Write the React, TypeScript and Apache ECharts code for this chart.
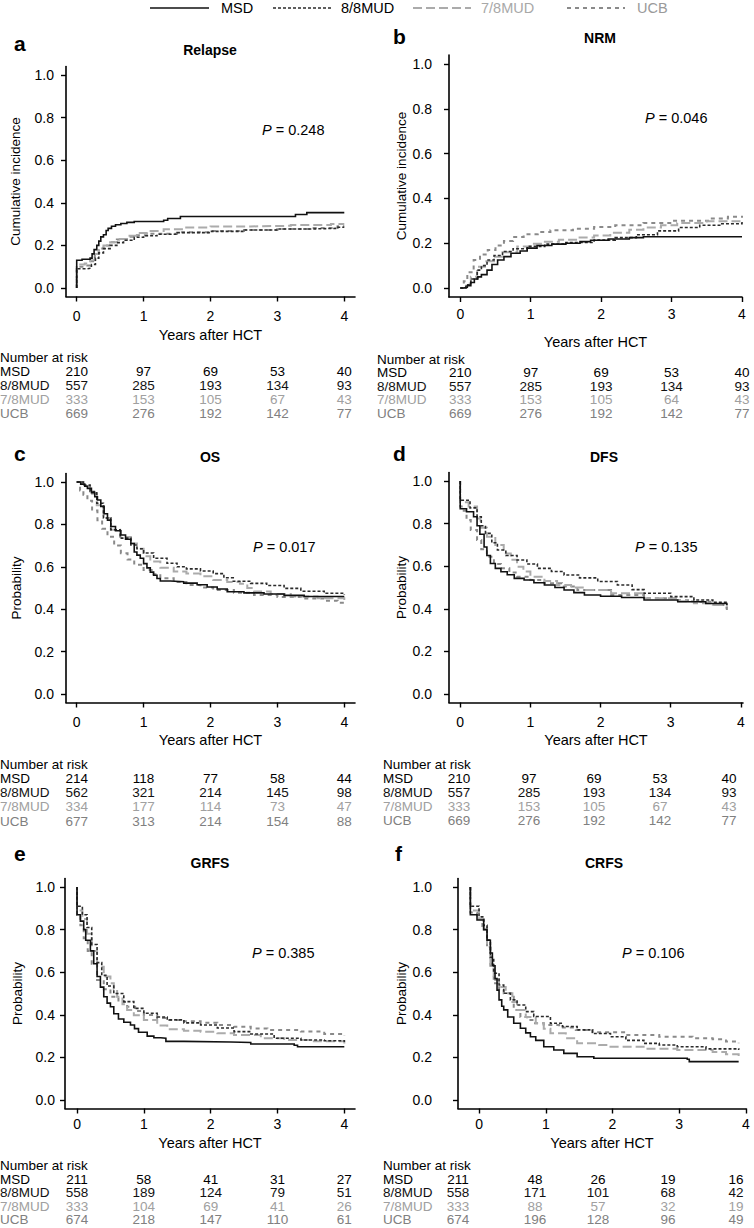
import React, { useEffect, useRef } from "react";
import * as echarts from "echarts";

const FONT = "'Liberation Sans', Arial, Helvetica, sans-serif";

const GROUPS = ["MSD", "8/8MUD", "7/8MUD", "UCB"];
const X_TICKS = [0, 1, 2, 3, 4];
const Y_TICKS = [0, 0.2, 0.4, 0.6, 0.8, 1.0];
const X_NAME = "Years after HCT";

// ---------- Curves (x = years after HCT, y = estimate) ----------
// a. Relapse
const relapseMSD = [[0,0],[0,0.13],[0.08,0.135],[0.2,0.14],[0.23,0.16],[0.26,0.18],[0.3,0.2],[0.33,0.22],[0.36,0.24],[0.4,0.25],[0.44,0.27],[0.47,0.28],[0.52,0.29],[0.58,0.297],[0.66,0.303],[0.75,0.308],[0.86,0.312],[1.3,0.318],[1.36,0.326],[1.55,0.336],[3.27,0.345],[3.44,0.354],[4.0,0.354]];
const relapseMUD88 = [[0,0],[0,0.09],[0.15,0.093],[0.22,0.11],[0.28,0.14],[0.33,0.165],[0.4,0.185],[0.5,0.2],[0.6,0.213],[0.7,0.224],[0.86,0.238],[1.0,0.245],[1.2,0.252],[1.5,0.26],[2.0,0.266],[2.5,0.272],[3.0,0.277],[3.5,0.28],[3.9,0.285],[4.0,0.285]];
const relapseMUD78 = [[0,0],[0,0.11],[0.12,0.115],[0.2,0.13],[0.27,0.16],[0.33,0.185],[0.4,0.2],[0.5,0.215],[0.6,0.23],[0.75,0.245],[0.9,0.258],[1.05,0.268],[1.3,0.276],[1.6,0.284],[2.0,0.289],[2.6,0.292],[3.2,0.296],[3.8,0.3],[4.0,0.3]];
const relapseUCB = [[0,0],[0,0.1],[0.12,0.105],[0.2,0.125],[0.27,0.16],[0.33,0.185],[0.4,0.2],[0.5,0.215],[0.6,0.228],[0.75,0.24],[0.9,0.248],[1.1,0.255],[1.5,0.262],[2.0,0.267],[2.5,0.272],[3.0,0.277],[3.5,0.282],[3.9,0.29],[4.0,0.29]];

// b. NRM
const nrmMSD = [[0,0],[0.05,0.003],[0.1,0.01],[0.15,0.025],[0.2,0.04],[0.25,0.05],[0.3,0.06],[0.38,0.08],[0.45,0.105],[0.53,0.125],[0.62,0.14],[0.72,0.155],[0.85,0.165],[0.95,0.178],[1.09,0.19],[1.3,0.196],[1.5,0.2],[1.7,0.207],[1.85,0.213],[2.1,0.219],[2.4,0.225],[2.6,0.229],[4.0,0.229]];
const nrmMUD88 = [[0,0],[0.08,0.015],[0.15,0.04],[0.24,0.08],[0.3,0.1],[0.38,0.125],[0.48,0.145],[0.6,0.163],[0.75,0.175],[0.95,0.186],[1.2,0.196],[1.5,0.203],[1.9,0.214],[2.2,0.225],[2.5,0.238],[2.8,0.255],[3.1,0.27],[3.4,0.28],[3.7,0.287],[4.0,0.295]];
const nrmMUD78 = [[0,0],[0.08,0.02],[0.15,0.05],[0.24,0.095],[0.35,0.12],[0.48,0.14],[0.6,0.16],[0.81,0.185],[1.0,0.198],[1.18,0.207],[1.4,0.215],[1.66,0.226],[1.9,0.235],[2.13,0.247],[2.4,0.26],[2.6,0.27],[2.85,0.28],[3.08,0.29],[3.5,0.298],[4.0,0.307]];
const nrmUCB = [[0,0],[0.05,0.03],[0.1,0.07],[0.19,0.125],[0.28,0.15],[0.39,0.17],[0.5,0.19],[0.62,0.21],[0.75,0.228],[0.9,0.24],[1.1,0.25],[1.28,0.258],[1.6,0.265],[1.9,0.272],[2.2,0.28],[2.6,0.29],[3.0,0.3],[3.55,0.31],[3.8,0.318],[4.0,0.323]];

// c. OS
const osMSD = [[0,1],[0.06,0.99],[0.12,0.98],[0.16,0.97],[0.22,0.95],[0.27,0.93],[0.31,0.915],[0.36,0.885],[0.41,0.85],[0.46,0.82],[0.51,0.79],[0.58,0.77],[0.66,0.75],[0.73,0.73],[0.81,0.71],[0.86,0.67],[0.9,0.655],[0.95,0.64],[1.0,0.615],[1.05,0.595],[1.1,0.575],[1.15,0.56],[1.2,0.545],[1.25,0.533],[1.4,0.53],[1.6,0.523],[1.8,0.515],[1.95,0.505],[2.1,0.495],[2.25,0.482],[2.5,0.477],[2.8,0.472],[3.1,0.465],[3.4,0.46],[4.0,0.458]];
const osMUD88 = [[0,1],[0.1,0.985],[0.2,0.955],[0.3,0.9],[0.4,0.83],[0.51,0.775],[0.65,0.735],[0.81,0.703],[0.9,0.685],[1.0,0.665],[1.15,0.64],[1.35,0.617],[1.5,0.6],[1.64,0.59],[1.85,0.58],[2.04,0.568],[2.2,0.548],[2.34,0.532],[2.6,0.522],[2.84,0.512],[3.1,0.498],[3.35,0.485],[3.7,0.475],[4.0,0.467]];
const osMUD78 = [[0,1],[0.1,0.98],[0.2,0.945],[0.3,0.89],[0.4,0.83],[0.51,0.775],[0.65,0.74],[0.81,0.71],[0.9,0.685],[1.0,0.65],[1.1,0.625],[1.25,0.595],[1.45,0.578],[1.64,0.568],[1.85,0.555],[2.04,0.538],[2.25,0.528],[2.44,0.52],[2.55,0.5],[2.65,0.483],[2.9,0.472],[3.2,0.46],[3.6,0.452],[4.0,0.443]];
const osUCB = [[0,1],[0.05,0.96],[0.1,0.94],[0.16,0.912],[0.23,0.865],[0.31,0.82],[0.38,0.78],[0.46,0.742],[0.56,0.7],[0.66,0.664],[0.76,0.635],[0.86,0.61],[1.0,0.585],[1.12,0.565],[1.25,0.546],[1.45,0.528],[1.64,0.514],[1.85,0.502],[2.04,0.491],[2.35,0.478],[2.65,0.467],[3.0,0.458],[3.35,0.451],[3.7,0.44],[3.9,0.43],[4.0,0.425]];

// d. DFS
const dfsMSD = [[0,1],[0,0.87],[0.09,0.856],[0.19,0.832],[0.24,0.79],[0.28,0.75],[0.34,0.69],[0.38,0.65],[0.43,0.613],[0.5,0.59],[0.58,0.574],[0.67,0.56],[0.77,0.543],[0.91,0.535],[1.05,0.522],[1.2,0.512],[1.35,0.5],[1.48,0.488],[1.62,0.476],[1.77,0.465],[2.0,0.459],[2.3,0.453],[2.62,0.441],[3.1,0.433],[3.5,0.425],[3.8,0.418]];
const dfsMUD88 = [[0,1],[0,0.91],[0.14,0.874],[0.24,0.832],[0.3,0.79],[0.36,0.754],[0.45,0.71],[0.53,0.676],[0.65,0.65],[0.81,0.629],[0.95,0.61],[1.1,0.59],[1.3,0.575],[1.48,0.559],[1.7,0.545],[1.96,0.528],[2.24,0.512],[2.45,0.49],[2.62,0.473],[3.0,0.457],[3.33,0.441],[3.6,0.43],[3.8,0.422]];
const dfsMUD78 = [[0,1],[0,0.9],[0.12,0.88],[0.24,0.824],[0.29,0.78],[0.38,0.738],[0.5,0.7],[0.62,0.66],[0.72,0.63],[0.81,0.598],[0.9,0.575],[1.0,0.551],[1.2,0.53],[1.38,0.512],[1.58,0.5],[1.77,0.488],[2.15,0.473],[2.62,0.449],[3.1,0.435],[3.33,0.426],[3.6,0.418],[3.8,0.41]];
const dfsUCB = [[0,1],[0,0.88],[0.05,0.86],[0.09,0.817],[0.15,0.77],[0.24,0.723],[0.3,0.68],[0.38,0.644],[0.48,0.61],[0.58,0.59],[0.7,0.57],[0.81,0.551],[1.0,0.535],[1.2,0.52],[1.45,0.505],[1.67,0.488],[2.15,0.465],[2.62,0.449],[3.1,0.44],[3.33,0.433],[3.6,0.42],[3.75,0.405],[3.8,0.394]];

// e. GRFS
const grfsMSD = [[0,1],[0,0.87],[0.05,0.84],[0.1,0.8],[0.13,0.75],[0.2,0.7],[0.25,0.64],[0.3,0.58],[0.35,0.53],[0.4,0.485],[0.45,0.455],[0.5,0.438],[0.55,0.405],[0.62,0.38],[0.7,0.365],[0.8,0.352],[0.86,0.335],[0.92,0.318],[1.05,0.3],[1.15,0.292],[1.25,0.29],[1.33,0.275],[1.6,0.272],[2.3,0.27],[2.6,0.263],[3.25,0.257],[3.3,0.25],[4.0,0.25]];
const grfsMUD88 = [[0,1],[0,0.91],[0.08,0.87],[0.15,0.81],[0.22,0.73],[0.3,0.645],[0.37,0.585],[0.45,0.535],[0.55,0.5],[0.7,0.462],[0.85,0.43],[1.0,0.407],[1.2,0.39],[1.35,0.376],[1.6,0.362],[1.85,0.352],[2.1,0.338],[2.35,0.321],[2.6,0.31],[2.95,0.29],[3.35,0.282],[3.7,0.278],[4.0,0.272]];
const grfsMUD78 = [[0,1],[0,0.89],[0.08,0.85],[0.15,0.78],[0.22,0.7],[0.3,0.626],[0.4,0.58],[0.5,0.548],[0.55,0.52],[0.6,0.485],[0.68,0.45],[0.75,0.423],[0.85,0.398],[1.0,0.376],[1.2,0.35],[1.35,0.332],[1.6,0.325],[1.85,0.32],[2.1,0.313],[2.35,0.305],[2.75,0.29],[3.1,0.282],[3.5,0.276],[4.0,0.265]];
const grfsUCB = [[0,1],[0,0.87],[0.05,0.82],[0.1,0.76],[0.16,0.7],[0.22,0.64],[0.3,0.563],[0.4,0.52],[0.5,0.485],[0.62,0.46],[0.75,0.438],[0.87,0.418],[1.0,0.399],[1.2,0.385],[1.35,0.376],[1.6,0.37],[1.85,0.363],[2.1,0.352],[2.35,0.344],[2.6,0.336],[2.85,0.329],[3.35,0.321],[3.7,0.31],[4.0,0.3]];

// f. CRFS
const crfsMSD = [[-0.13,1],[-0.13,0.87],[-0.03,0.845],[0.07,0.8],[0.12,0.75],[0.17,0.69],[0.2,0.63],[0.24,0.57],[0.27,0.516],[0.3,0.47],[0.34,0.44],[0.37,0.423],[0.43,0.39],[0.52,0.36],[0.62,0.337],[0.7,0.315],[0.77,0.297],[0.85,0.28],[0.97,0.25],[1.12,0.235],[1.27,0.219],[1.47,0.203],[1.72,0.196],[3.12,0.191],[3.15,0.18],[3.89,0.18]];
const crfsMUD88 = [[-0.13,1],[-0.13,0.91],[0.0,0.86],[0.07,0.82],[0.12,0.751],[0.17,0.67],[0.22,0.595],[0.3,0.54],[0.37,0.501],[0.47,0.47],[0.57,0.446],[0.7,0.415],[0.82,0.392],[1.07,0.36],[1.25,0.345],[1.47,0.329],[1.7,0.312],[1.97,0.297],[2.2,0.28],[2.47,0.266],[2.7,0.258],[2.97,0.25],[3.4,0.24],[3.89,0.235]];
const crfsMUD78 = [[-0.13,1],[-0.13,0.89],[0.0,0.85],[0.07,0.8],[0.12,0.72],[0.17,0.64],[0.22,0.563],[0.3,0.53],[0.4,0.501],[0.5,0.46],[0.57,0.423],[0.7,0.39],[0.85,0.36],[0.97,0.335],[1.07,0.313],[1.3,0.29],[1.47,0.266],[1.8,0.258],[1.97,0.25],[2.5,0.24],[2.97,0.235],[3.5,0.225],[3.7,0.215],[3.89,0.207]];
const crfsUCB = [[-0.13,1],[-0.13,0.88],[-0.03,0.85],[0.05,0.81],[0.12,0.72],[0.17,0.63],[0.22,0.548],[0.3,0.52],[0.37,0.501],[0.52,0.423],[0.62,0.39],[0.72,0.376],[0.82,0.36],[0.97,0.352],[1.2,0.34],[1.45,0.329],[1.7,0.318],[2.2,0.305],[2.7,0.297],[3.2,0.29],[3.5,0.285],[3.7,0.275],[3.89,0.266]];

// ---------- Number at risk (rows: MSD, 8/8MUD, 7/8MUD, UCB; cols: 0..4 years) ----------
const riskRelapse = [[210,97,69,53,40],[557,285,193,134,93],[333,153,105,67,43],[669,276,192,142,77]];
const riskNRM = [[210,97,69,53,40],[557,285,193,134,93],[333,153,105,64,43],[669,276,192,142,77]];
const riskOS = [[214,118,77,58,44],[562,321,214,145,98],[334,177,114,73,47],[677,313,214,154,88]];
const riskDFS = [[210,97,69,53,40],[557,285,193,134,93],[333,153,105,67,43],[669,276,192,142,77]];
const riskGRFS = [[211,58,41,31,27],[558,189,124,79,51],[333,104,69,41,26],[674,218,147,110,61]];
const riskCRFS = [[211,48,26,19,16],[558,171,101,68,42],[333,88,57,32,19],[674,196,128,96,49]];

const titles = ["Relapse", "NRM", "OS", "DFS", "GRFS", "CRFS"];
const letters = ["a", "b", "c", "d", "e", "f"];
const yNames = ["Cumulative incidence", "Cumulative incidence", "Probability", "Probability", "Probability", "Probability"];
const pValues = ["0.248", "0.046", "0.017", "0.135", "0.385", "0.106"];
const curves = [
  [relapseMSD, relapseMUD88, relapseMUD78, relapseUCB],
  [nrmMSD, nrmMUD88, nrmMUD78, nrmUCB],
  [osMSD, osMUD88, osMUD78, osUCB],
  [dfsMSD, dfsMUD88, dfsMUD78, dfsUCB],
  [grfsMSD, grfsMUD88, grfsMUD78, grfsUCB],
  [crfsMSD, crfsMUD88, crfsMUD78, crfsUCB],
];
const risks = [riskRelapse, riskNRM, riskOS, riskDFS, riskGRFS, riskCRFS];

// ---------- Styles ----------
const STYLE: Record<string, { color: string; width: number; dash: any; text: string }> = {
  MSD: { color: "#111111", width: 1.6, dash: "solid", text: "#000000" },
  "8/8MUD": { color: "#2b2b2b", width: 1.6, dash: [3, 2], text: "#111111" },
  "7/8MUD": { color: "#ababab", width: 2, dash: [9, 4], text: "#a0a0a0" },
  UCB: { color: "#8a8a8a", width: 2, dash: [4, 4], text: "#808080" },
};
const TABLE_FONT = `13.5px ${FONT}`;

// ---------- Layout (pixel positions) ----------
const LAYOUT = [
  { letter: [14, 43], title: [210, 50], grid: { left: 66, top: 66.5, width: 289, height: 230 }, xMin: -0.16, xMax: 4.16, xLabelMargin: 12, xNameGap: 31, yLabelMargin: 12, yNameGap: 44, p: [262, 130], labelX: 0, rowsY: [357, 371, 385, 399, 413], colsX: null as any },
  { letter: [393, 36], title: [600, 38], grid: { left: 449, top: 55, width: 293, height: 242 }, xMin: -0.16, xMax: 4.0, xLabelMargin: 10, xNameGap: 37, yLabelMargin: 17, yNameGap: 38, p: [645, 118], labelX: 377, rowsY: [359, 372.5, 386, 399.5, 413], colsX: null as any },
  { letter: [14, 453], title: [210, 457], grid: { left: 66, top: 473.5, width: 289, height: 229 }, xMin: -0.16, xMax: 4.16, xLabelMargin: 12, xNameGap: 30, yLabelMargin: 12, yNameGap: 43, p: [253, 547], labelX: 0, rowsY: [764, 778, 792, 806.5, 821], colsX: null as any },
  { letter: [393, 453], title: [604, 457], grid: { left: 449, top: 472.5, width: 294, height: 230 }, xMin: -0.16, xMax: 4.03, xLabelMargin: 12, xNameGap: 30, yLabelMargin: 17, yNameGap: 38, p: [635, 547], labelX: 383, rowsY: [764, 778, 792, 806, 820], colsX: [459, 529, 594, 660, 729] },
  { letter: [14, 853], title: [210, 863], grid: { left: 65, top: 878.5, width: 290, height: 230 }, xMin: -0.18, xMax: 4.16, xLabelMargin: 8, xNameGap: 27, yLabelMargin: 10, yNameGap: 41, p: [252, 953], labelX: 0, rowsY: [1165.5, 1179, 1192.5, 1206, 1219.5], colsX: null as any },
  { letter: [395, 853], title: [604, 863], grid: { left: 458, top: 878.5, width: 288, height: 230 }, xMin: -0.315, xMax: 4.0, xLabelMargin: 8, xNameGap: 27, yLabelMargin: 26, yNameGap: 40, p: [622, 953], labelX: 383, rowsY: [1165.5, 1179, 1192.5, 1206, 1219.5], colsX: [458, 535, 598, 668, 736] },
];

const LEGEND_POS = [
  { x1: 150, x2: 209, tx: 221 },
  { x1: 273, x2: 331, tx: 341 },
  { x1: 413, x2: 471, tx: 481 },
  { x1: 567, x2: 625, tx: 637 },
];

function textEl(x: number, y: number, text: string, opts: any = {}) {
  const style: any = {
    text,
    fill: opts.fill || "#000",
    font: opts.font || `14px ${FONT}`,
    align: opts.align || "left",
    verticalAlign: "middle",
  };
  if (opts.rich) style.rich = opts.rich;
  if (opts.lineHeight) style.lineHeight = opts.lineHeight;
  return { type: "text", x, y, silent: true, style };
}

function buildOption() {
  const grid: any[] = [];
  const xAxis: any[] = [];
  const yAxis: any[] = [];
  const series: any[] = [];
  const graphic: any[] = [];

  LAYOUT.forEach((L, i) => {
    grid.push({ ...L.grid, containLabel: false });
    xAxis.push({
      type: "value",
      gridIndex: i,
      min: L.xMin,
      max: L.xMax,
      name: X_NAME,
      nameLocation: "middle",
      nameGap: L.xNameGap,
      nameTextStyle: { color: "#000", fontSize: 14.5, fontFamily: FONT },
      axisLine: { show: true, onZero: false, lineStyle: { color: "#000", width: 1.6 } },
      axisTick: { show: true, customValues: X_TICKS, length: 5, inside: false, lineStyle: { color: "#000", width: 1.4 } },
      axisLabel: { show: true, customValues: X_TICKS, margin: L.xLabelMargin, color: "#000", fontSize: 14, fontFamily: FONT, formatter: (v: number) => String(Math.round(v)) },
      splitLine: { show: false },
    });
    yAxis.push({
      type: "value",
      gridIndex: i,
      min: -0.04,
      max: 1.04,
      name: yNames[i],
      nameLocation: "middle",
      nameGap: L.yNameGap,
      nameTextStyle: { color: "#000", fontSize: 13.5, fontFamily: FONT },
      axisLine: { show: true, onZero: false, lineStyle: { color: "#000", width: 1.6 } },
      axisTick: { show: true, customValues: Y_TICKS, length: 5, inside: false, lineStyle: { color: "#000", width: 1.4 } },
      axisLabel: { show: true, customValues: Y_TICKS, margin: L.yLabelMargin, color: "#000", fontSize: 14, fontFamily: FONT, formatter: (v: number) => v.toFixed(1) },
      splitLine: { show: false },
    });

    // draw lighter groups first, MSD last
    [3, 2, 1, 0].forEach((g, order) => {
      const name = GROUPS[g];
      const st = STYLE[name];
      series.push({
        type: "line",
        name,
        xAxisIndex: i,
        yAxisIndex: i,
        data: curves[i][g],
        step: "end",
        symbol: "none",
        z: 2 + order,
        lineStyle: { color: st.color, width: st.width, type: st.dash, cap: "butt", join: "miter" },
        emphasis: { disabled: true },
      });
    });

    // panel letter and title
    graphic.push(textEl(L.letter[0], L.letter[1], letters[i], { font: `bold 21px ${FONT}` }));
    graphic.push(textEl(L.title[0], L.title[1], titles[i], { font: `bold 14px ${FONT}`, align: "center" }));
    // P value
    graphic.push(
      textEl(L.p[0], L.p[1], `{it|P} = ${pValues[i]}`, {
        rich: { it: { font: `italic 14.5px ${FONT}`, fill: "#000" } },
        font: `14.5px ${FONT}`,
      })
    );

    // Number at risk table
    const colX = L.colsX
      ? L.colsX
      : X_TICKS.map((t) => L.grid.left + ((t - L.xMin) / (L.xMax - L.xMin)) * L.grid.width);
    graphic.push(textEl(L.labelX, L.rowsY[0], "Number at risk", { font: TABLE_FONT, lineHeight: 13 }));
    GROUPS.forEach((gname, g) => {
      const y = L.rowsY[g + 1];
      const fill = STYLE[gname].text;
      graphic.push(textEl(L.labelX, y, gname, { fill, font: TABLE_FONT, lineHeight: 13 }));
      risks[i][g].forEach((n, k) => {
        graphic.push(textEl(colX[k], y, String(n), { fill, font: TABLE_FONT, align: "center", lineHeight: 13 }));
      });
    });
  });

  // Legend at top
  GROUPS.forEach((gname, g) => {
    const st = STYLE[gname];
    const pos = LEGEND_POS[g];
    graphic.push({
      type: "line",
      silent: true,
      shape: { x1: pos.x1, y1: 8, x2: pos.x2, y2: 8 },
      style: { stroke: st.color, lineWidth: st.width, lineDash: st.dash === "solid" ? null : st.dash },
    });
    graphic.push(textEl(pos.tx, 8, gname, { fill: g < 2 ? "#000" : g === 2 ? "#a8a8a8" : "#9a9a9a", font: `14.5px ${FONT}` }));
  });

  return {
    animation: false,
    backgroundColor: "#ffffff",
    textStyle: { fontFamily: FONT },
    grid,
    xAxis,
    yAxis,
    series,
    graphic: { elements: graphic },
  };
}

export default function App() {
  const ref = useRef<HTMLDivElement>(null);
  useEffect(() => {
    document.body.style.margin = "0";
    const el = ref.current;
    if (!el) return;
    const chart = echarts.init(el, null, { renderer: "svg", width: 754, height: 1228 });
    chart.setOption(buildOption() as any);
    return () => {
      chart.dispose();
    };
  }, []);
  return <div ref={ref} style={{ width: 754, height: 1228, background: "#fff" }} />;
}
